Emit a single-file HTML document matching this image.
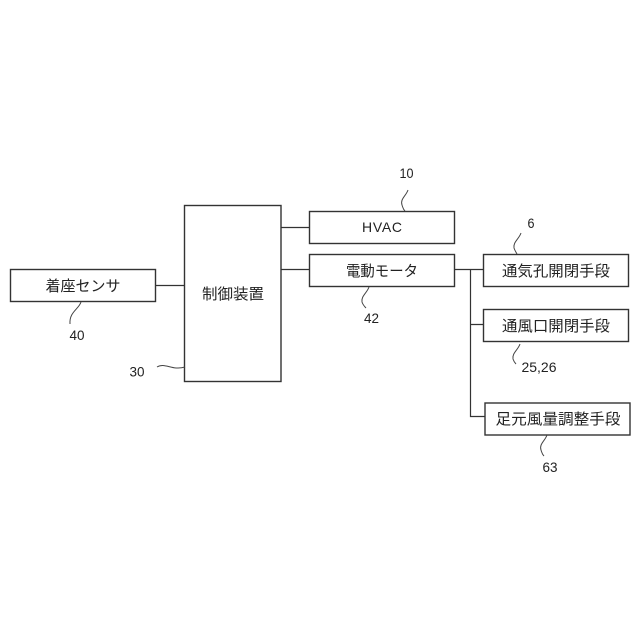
<!DOCTYPE html>
<html><head><meta charset="utf-8">
<style>
html,body{margin:0;padding:0;background:#fff;width:640px;height:640px;overflow:hidden}
svg{display:block}
text{font-family:"Liberation Sans","Noto Sans CJK JP",sans-serif;fill:#222}
.j{font-size:15px;text-anchor:middle}
.n{font-size:14px;text-anchor:middle}
.b{fill:#fff;stroke:#333;stroke-width:1.4}
.l{fill:none;stroke:#333;stroke-width:1.2}
.w{fill:none;stroke:#444;stroke-width:1}
</style></head><body>
<svg width="640" height="640" viewBox="0 0 640 640" xmlns="http://www.w3.org/2000/svg">
<path class="l" d="M155.500 285.500H185M281 227.500H310M281 269.500H310M454 269.500H484M470.500 269.500V416.500H485M470.500 324.500H484"/>
<rect class="b" x="10.500" y="269.500" width="145" height="32"/>
<rect class="b" x="184.500" y="205.500" width="96.500" height="176"/>
<rect class="b" x="309.500" y="211.500" width="145" height="32"/>
<rect class="b" x="309.500" y="254.500" width="145" height="32"/>
<rect class="b" x="483.500" y="254.500" width="145" height="32"/>
<rect class="b" x="483.500" y="309.500" width="145" height="32"/>
<rect class="b" x="485" y="403" width="145" height="32"/>
<text class="j" x="83" y="291" textLength="75" lengthAdjust="spacingAndGlyphs">着座センサ</text>
<text class="j" x="233" y="299" textLength="62" lengthAdjust="spacingAndGlyphs">制御装置</text>
<text class="j" x="382" y="232" style="font-size:14px" textLength="40" lengthAdjust="spacing">HVAC</text>
<text class="j" x="382" y="276" textLength="72" lengthAdjust="spacingAndGlyphs">電動モータ</text>
<text class="j" x="556" y="276" textLength="108" lengthAdjust="spacingAndGlyphs">通気孔開閉手段</text>
<text class="j" x="556" y="331" textLength="108" lengthAdjust="spacingAndGlyphs">通風口開閉手段</text>
<text class="j" x="558" y="424" textLength="125" lengthAdjust="spacingAndGlyphs">足元風量調整手段</text>
<text class="n" x="406.500" y="178" textLength="14" lengthAdjust="spacingAndGlyphs">10</text>
<text class="n" x="531" y="228" textLength="7" lengthAdjust="spacingAndGlyphs">6</text>
<text class="n" x="77" y="340" textLength="15" lengthAdjust="spacingAndGlyphs">40</text>
<text class="n" x="371.500" y="323" textLength="15" lengthAdjust="spacingAndGlyphs">42</text>
<text class="n" x="137" y="376.500" textLength="15" lengthAdjust="spacingAndGlyphs">30</text>
<text class="n" x="539" y="372" textLength="35" lengthAdjust="spacingAndGlyphs">25,26</text>
<text class="n" x="550" y="472" textLength="15" lengthAdjust="spacingAndGlyphs">63</text>
<path class="w" d="M408 190C406 196 400 199 402 205C403 208 403 209 405 211"/>
<path class="w" d="M521 233C519 239 513 242 514 248C515 251 516 252 517 254"/>
<path class="w" d="M81 302C79 309 69 312 70 324"/>
<path class="w" d="M369 287C367 293 361 296 362 302C363 305 364 306 366 308"/>
<path class="w" d="M157 367C165 362 172 371 185 367"/>
<path class="w" d="M520 344C518 350 512 353 513 359C514 362 515 363 516 364"/>
<path class="w" d="M547 435C545 441 539 444 541 450C542 453 542 454 544 456"/>
</svg>
</body></html>
